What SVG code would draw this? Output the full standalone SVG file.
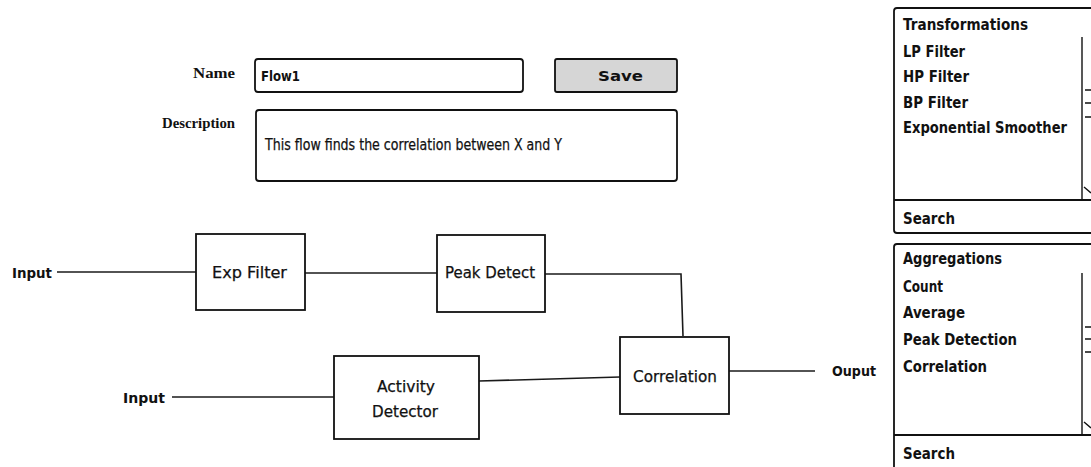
<svg xmlns="http://www.w3.org/2000/svg" width="1091" height="467" viewBox="0 0 1091 467">
  <style>
    .bg { fill: #ffffff; }
    .box { fill: #ffffff; stroke: #111; stroke-width: 1.8; }
    .btn { fill: #d6d6d6; stroke: #111; stroke-width: 1.8; }
    .wire { fill: none; stroke: #1a1a1a; stroke-width: 1.6; }
    .thin { fill: none; stroke: #111; stroke-width: 1.4; }
    .hand { font-family: "DejaVu Sans", "Noto Sans", sans-serif; fill: #111; }
    .b { font-weight: bold; }
    .lbl { font-family: "Liberation Serif", "Times New Roman", serif; font-weight: bold; font-size: 14px; fill: #111; }
    .item { font-size: 15px; font-weight: bold; }
    .node { font-size: 15px; font-weight: normal; stroke: #111; stroke-width: 0.25; }
  </style>

  <rect class="bg" x="0" y="0" width="1091" height="467"/>

  <!-- flow properties form -->
  <g id="form-name">
    <text class="lbl" x="193" y="78" textLength="42" lengthAdjust="spacingAndGlyphs">Name</text>
    <rect class="box" x="255" y="59" width="268" height="33" rx="3"/>
    <text class="hand b" x="261" y="81" font-size="14" textLength="39" lengthAdjust="spacingAndGlyphs">Flow1</text>
  </g>
  <g id="form-save">
    <rect class="btn" x="555" y="59" width="122" height="33" rx="2"/>
    <text class="hand b" x="598" y="81" font-size="14" textLength="45" lengthAdjust="spacingAndGlyphs">Save</text>
  </g>
  <g id="form-description">
    <text class="lbl" x="162" y="128" textLength="73" lengthAdjust="spacingAndGlyphs">Description</text>
    <rect class="box" x="256" y="110" width="421" height="71" rx="3"/>
    <text class="hand node" x="265" y="150" font-size="14" textLength="297" lengthAdjust="spacingAndGlyphs">This flow finds the correlation between X and Y</text>
  </g>

  <!-- connectors -->
  <g id="connectors">
    <line class="wire" x1="57" y1="272" x2="196" y2="272"/>
    <line class="wire" x1="305" y1="273" x2="437" y2="273"/>
    <polyline class="wire" points="545,274 681,274 683,336"/>
    <line class="wire" x1="172" y1="397" x2="334" y2="397"/>
    <line class="wire" x1="479" y1="381" x2="620" y2="377"/>
    <line class="wire" x1="729" y1="371" x2="815" y2="371"/>
  </g>

  <!-- flow endpoints -->
  <g id="input-1">
    <text class="hand b" x="12" y="278" font-size="14" textLength="40" lengthAdjust="spacingAndGlyphs">Input</text>
  </g>
  <g id="input-2">
    <text class="hand b" x="123" y="403" font-size="14" textLength="42" lengthAdjust="spacingAndGlyphs">Input</text>
  </g>
  <g id="output">
    <text class="hand b" x="832" y="376" font-size="14" textLength="44" lengthAdjust="spacingAndGlyphs">Ouput</text>
  </g>

  <!-- processing blocks -->
  <g id="exp-filter">
    <rect class="box" x="196" y="234" width="109" height="76"/>
    <text class="hand node" x="212" y="278" textLength="75" lengthAdjust="spacingAndGlyphs">Exp Filter</text>
  </g>
  <g id="peak-detect">
    <rect class="box" x="437" y="235" width="108" height="77"/>
    <text class="hand node" x="445" y="278" textLength="90" lengthAdjust="spacingAndGlyphs">Peak Detect</text>
  </g>
  <g id="activity-detector">
    <rect class="box" x="334" y="356" width="145" height="83"/>
    <text class="hand node" x="377" y="392" textLength="58" lengthAdjust="spacingAndGlyphs">Activity</text>
    <text class="hand node" x="372" y="417" textLength="66" lengthAdjust="spacingAndGlyphs">Detector</text>
  </g>
  <g id="correlation">
    <rect class="box" x="620" y="337" width="109" height="77"/>
    <text class="hand node" x="633" y="382" textLength="84" lengthAdjust="spacingAndGlyphs">Correlation</text>
  </g>

  <!-- palette: transformations -->
  <g id="transformations-panel">
    <rect class="box" x="894" y="8" width="220" height="225" rx="3"/>
    <line class="box" x1="894" y1="200" x2="1091" y2="200" stroke-width="2.4"/>
    <line class="thin" x1="1082" y1="37" x2="1082" y2="200"/>
    <path class="thin" d="M1085 90 H1091 M1085 103 H1091 M1085 117 H1091 M1084 187 L1091 193"/>
    <text class="hand item" x="903" y="30" textLength="125" lengthAdjust="spacingAndGlyphs">Transformations</text>
    <text class="hand item" x="903" y="57" textLength="62" lengthAdjust="spacingAndGlyphs">LP Filter</text>
    <text class="hand item" x="903" y="82" textLength="66" lengthAdjust="spacingAndGlyphs">HP Filter</text>
    <text class="hand item" x="903" y="108" textLength="65" lengthAdjust="spacingAndGlyphs">BP Filter</text>
    <text class="hand item" x="903" y="133" textLength="164" lengthAdjust="spacingAndGlyphs">Exponential Smoother</text>
    <text class="hand item" x="903" y="224" textLength="52" lengthAdjust="spacingAndGlyphs">Search</text>
  </g>

  <!-- palette: aggregations -->
  <g id="aggregations-panel">
    <rect class="box" x="894" y="244" width="220" height="240" rx="3"/>
    <line class="box" x1="894" y1="435" x2="1091" y2="435" stroke-width="2.4"/>
    <line class="thin" x1="1082" y1="273" x2="1082" y2="435"/>
    <path class="thin" d="M1085 327 H1091 M1085 339 H1091 M1085 352 H1091 M1084 422 L1091 428"/>
    <text class="hand item" x="903" y="264" textLength="99" lengthAdjust="spacingAndGlyphs">Aggregations</text>
    <text class="hand item" x="903" y="292" textLength="40" lengthAdjust="spacingAndGlyphs">Count</text>
    <text class="hand item" x="903" y="318" textLength="62" lengthAdjust="spacingAndGlyphs">Average</text>
    <text class="hand item" x="903" y="345" textLength="114" lengthAdjust="spacingAndGlyphs">Peak Detection</text>
    <text class="hand item" x="903" y="372" textLength="84" lengthAdjust="spacingAndGlyphs">Correlation</text>
    <text class="hand item" x="903" y="459" textLength="52" lengthAdjust="spacingAndGlyphs">Search</text>
  </g>
</svg>
